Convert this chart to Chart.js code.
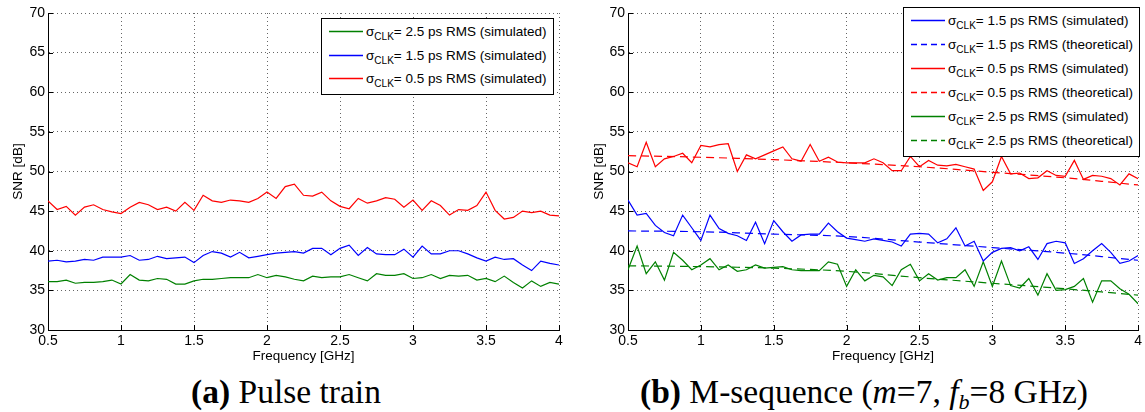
<!DOCTYPE html>
<html>
<head>
<meta charset="utf-8">
<script src="https://cdn.jsdelivr.net/npm/chart.js@4"></script>
<style>
  body { margin: 0; background: #fff; width: 1145px; height: 412px; overflow: hidden; position: relative; }
  .box { position: absolute; top: 0; height: 372px; }
  .legend { position: absolute; background: #fff; border: 1.5px solid #000; font-family: "Liberation Sans", Arial, sans-serif; font-size: 13.5px; color: #000; box-sizing: border-box; }
  .legend .row { position: absolute; left: 0; height: 20px; white-space: nowrap; }
  .legend svg { position: absolute; top: 0; left: 6px; }
  .legend .txt { position: absolute; top: 0; line-height: 20px; }
  .legend sub { font-size: 10px; vertical-align: -4px; line-height: 0; }
  .caption { position: absolute; top: 375px; font-family: "Liberation Serif", "Times New Roman", serif; font-size: 33.5px; line-height: 33px; text-align: center; color: #000; }
</style>
</head>
<body>
<div class="box" id="leftBox" style="left:0; width:572px;"><canvas id="pulse_chart"></canvas></div>
<div class="box" id="rightBox" style="left:572px; width:573px;"><canvas id="mseq_chart"></canvas></div>
<div class="legend" id="legendA" style="left:321px; top:18px; width:233px; height:77px;"></div>
<div class="legend" id="legendB" style="left:903px; top:7px; width:237px; height:150px;"></div>
<div class="caption" style="left:0; width:572px;"><b>(a)</b> Pulse train</div>
<div class="caption" style="left:578px; width:572px;"><b>(b)</b> M-sequence (<i>m</i>=7, <i>f</i><sub style="font-size:22px; vertical-align:-6px; line-height:0;"><i>b</i></sub>=8 GHz)</div>
<script>
// Frequency points, 0.5 to 4 GHz in 1/16 GHz steps.
let freq = [];
for (let i = 0; i <= 56; i++) freq.push(0.5 + i / 16);

// Frequencies used for the theoretical curves.
const theoFreq = [0.5, 1, 1.5, 2, 2.5, 3, 3.5, 4];

const xTicks = [0.5, 1, 1.5, 2, 2.5, 3, 3.5, 4];
const yTicks = [30, 35, 40, 45, 50, 55, 60, 65, 70];

// (a) Pulse train, simulated SNR [dB]
const pulse25 = [36.1, 36.1, 36.3, 35.9, 36.0, 36.0, 36.1, 36.3, 35.8, 37.0, 36.3, 36.2, 36.5, 36.4, 35.8, 35.8, 36.2, 36.4, 36.4, 36.5, 36.6, 36.6, 36.6, 37.0, 36.6, 36.9, 36.7, 36.4,
  36.2, 36.8, 36.6, 36.7, 36.7, 37.0, 36.6, 36.2, 37.1, 36.9, 36.9, 37.1, 36.5, 36.6, 37.0, 36.5, 36.9, 36.8, 36.9, 36.3, 36.5, 36.1, 36.8, 36.0, 35.3, 36.2, 35.5, 36.0, 35.8];
const pulse15 = [38.7, 38.8, 38.6, 38.7, 38.9, 38.8, 39.2, 39.2, 39.2, 39.4, 38.8, 38.9, 39.3, 39.0, 39.1, 39.2, 38.5, 39.4, 39.9, 39.7, 39.2, 39.8, 39.1, 39.3, 39.5, 39.7, 39.8, 39.9,
  39.7, 40.3, 40.3, 39.5, 40.3, 40.7, 39.4, 40.4, 39.6, 39.5, 39.5, 40.2, 39.2, 40.6, 39.6, 39.6, 40.0, 40.0, 39.6, 39.1, 38.7, 39.2, 38.9, 39.0, 38.2, 37.5, 38.7, 38.4, 38.2];
const pulse05 = [46.3, 45.2, 45.6, 44.5, 45.5, 45.8, 45.2, 44.9, 44.7, 45.5, 46.1, 45.8, 45.2, 45.5, 45.0, 46.1, 45.1, 47.0, 46.3, 46.1, 46.4, 46.3, 46.1, 46.6, 47.4, 46.6, 48.1, 48.4,
  47.0, 46.9, 47.4, 46.3, 45.6, 45.3, 46.6, 46.0, 46.3, 46.7, 46.5, 45.5, 46.4, 45.1, 46.3, 45.7, 44.5, 45.2, 45.1, 45.7, 47.4, 45.1, 44.0, 44.2, 45.0, 44.8, 45.0, 44.5, 44.4];

// (b) M-sequence, simulated SNR [dB]
const mseq15 = [46.4, 44.5, 44.7, 43.2, 42.3, 41.9, 44.5, 42.9, 41.3, 44.5, 42.8, 42.2, 41.9, 41.3, 43.6, 40.9, 43.8, 42.4, 41.2, 42.0, 42.1, 42.1, 43.5, 42.4, 41.6, 41.4, 41.2, 41.5,
  41.3, 41.1, 40.6, 42.1, 42.2, 42.1, 41.0, 41.5, 42.9, 40.6, 41.2, 38.7, 39.8, 40.3, 40.4, 40.0, 40.5, 38.9, 40.9, 41.2, 41.0, 38.4, 39.0, 40.0, 40.9, 39.8, 38.4, 38.7, 39.4];
const mseq05 = [51.1, 50.6, 53.7, 50.6, 51.6, 51.9, 52.3, 51.1, 53.3, 53.1, 53.4, 53.5, 50.0, 52.1, 51.6, 52.1, 52.6, 53.1, 51.6, 51.3, 53.4, 51.3, 51.8, 51.2, 51.1, 51.1, 51.1, 51.6,
  51.1, 50.1, 50.1, 51.9, 50.6, 51.4, 50.8, 50.7, 50.9, 50.6, 50.3, 47.6, 48.7, 51.9, 49.7, 49.8, 49.1, 49.2, 50.1, 49.5, 49.4, 51.4, 49.0, 49.5, 49.4, 49.1, 48.3, 49.7, 49.1];
const mseq25 = [37.6, 40.6, 37.1, 38.6, 36.3, 39.8, 38.8, 37.6, 38.2, 39.0, 37.6, 38.2, 37.4, 37.6, 38.2, 37.8, 37.9, 38.0, 37.6, 37.5, 37.5, 37.5, 38.6, 38.3, 35.5, 37.6, 36.2, 36.9,
  36.7, 35.6, 37.6, 38.3, 36.2, 37.1, 36.3, 36.6, 36.6, 37.6, 35.5, 38.6, 35.5, 38.7, 35.6, 35.3, 36.5, 34.4, 37.1, 35.0, 35.1, 35.5, 36.5, 33.5, 36.2, 36.2, 35.2, 34.5, 33.3];

// (b) M-sequence, theoretical SNR [dB]
const theo15 = [42.5, 42.4, 42.1, 41.8, 41.1, 40.4, 39.7, 38.8];
const theo05 = [52.0, 51.8, 51.5, 51.1, 50.6, 49.9, 49.2, 48.3];
const theo25 = [38.1, 38.0, 37.8, 37.4, 36.6, 35.9, 35.2, 34.4];

const RED = '#ff0000', BLUE = '#0000ff', GREEN = '#008000';
const sans = '"Liberation Sans", Arial, sans-serif';

const toPoints = (xs, ys) => xs.map((x, i) => ({x: x, y: ys[i]}));

// Small tick marks drawn inside the plot box, like MATLAB axes.
const inwardTicks = {
  id: 'inwardTicks',
  afterDraw(chart) {
    const {ctx, chartArea: a, scales: {x, y}} = chart;
    ctx.save();
    ctx.strokeStyle = '#000';
    ctx.lineWidth = 1;
    ctx.beginPath();
    x.ticks.forEach(t => {
      const px = Math.round(x.getPixelForValue(t.value)) + 0.5;
      ctx.moveTo(px, a.bottom);
      ctx.lineTo(px, a.bottom - 5);
    });
    y.ticks.forEach(t => {
      const py = Math.round(y.getPixelForValue(t.value)) + 0.5;
      ctx.moveTo(a.left, py);
      ctx.lineTo(a.left + 5, py);
    });
    ctx.stroke();
    ctx.restore();
  }
};

function makeOptions(yWidth, rightPad, titlePad) {
  return {
    responsive: true,
    maintainAspectRatio: false,
    animation: false,
    events: [],
    layout: { padding: { left: 0, top: 13, right: rightPad, bottom: 0 } },
    plugins: { legend: { display: false }, tooltip: { enabled: false } },
    elements: { point: { radius: 0 }, line: { borderWidth: 1.2, tension: 0 } },
    scales: {
      x: {
        type: 'linear', min: 0.5, max: 4,
        afterBuildTicks: s => { s.ticks = xTicks.map(v => ({value: v})); },
        afterFit: s => { s.height = 42; },
        ticks: { callback: v => v.toString(), color: '#000', font: { family: sans, size: 14 }, padding: 3, maxRotation: 0, autoSkip: false },
        grid: { color: '#666', lineWidth: 1, drawTicks: false },
        border: { display: true, color: '#000', width: 1, dash: [1, 3] },
        title: { display: true, text: 'Frequency [GHz]', color: '#000', font: { family: sans, size: 13.5 }, padding: { top: 0, bottom: 8 } }
      },
      y: {
        type: 'linear', min: 30, max: 70,
        afterBuildTicks: s => { s.ticks = yTicks.map(v => ({value: v})); },
        afterFit: s => { s.width = yWidth; },
        ticks: { color: '#000', font: { family: sans, size: 14 }, padding: 3 },
        grid: { color: '#666', lineWidth: 1, drawTicks: false },
        border: { display: true, color: '#000', width: 1, dash: [1, 3] },
        title: { display: true, text: 'SNR [dB]', color: '#000', font: { family: sans, size: 13.5 }, padding: { top: titlePad, bottom: 0 } }
      }
    }
  };
}

const simSet = (label, data, color) => ({ label: label, data: toPoints(freq, data), borderColor: color, backgroundColor: color, fill: false });
const theoSet = (label, data, color) => ({ label: label, data: toPoints(theoFreq, data), borderColor: color, backgroundColor: color, borderDash: [8, 5], tension: 0.35, fill: false });

const pulseChart = new Chart(document.getElementById('pulse_chart'), {
  type: 'line',
  data: {
    datasets: [
      simSet('2.5 ps RMS (simulated)', pulse25, GREEN),
      simSet('1.5 ps RMS (simulated)', pulse15, BLUE),
      simSet('0.5 ps RMS (simulated)', pulse05, RED)
    ]
  },
  options: makeOptions(48, 13, 10),
  plugins: [inwardTicks]
});

const mseqChart = new Chart(document.getElementById('mseq_chart'), {
  type: 'line',
  data: {
    datasets: [
      simSet('1.5 ps RMS (simulated)', mseq15, BLUE),
      theoSet('1.5 ps RMS (theoretical)', theo15, BLUE),
      simSet('0.5 ps RMS (simulated)', mseq05, RED),
      theoSet('0.5 ps RMS (theoretical)', theo05, RED),
      simSet('2.5 ps RMS (simulated)', mseq25, GREEN),
      theoSet('2.5 ps RMS (theoretical)', theo25, GREEN)
    ]
  },
  options: makeOptions(56, 6, 19),
  plugins: [inwardTicks]
});

// HTML legend, so that the subscript in sigma_CLK can be real text.
function buildLegend(chart, id, firstY, step) {
  const box = document.getElementById(id);
  chart.data.datasets.forEach((ds, i) => {
    const row = document.createElement('div');
    row.className = 'row';
    row.style.top = (firstY + i * step - 10) + 'px';
    const dash = ds.borderDash ? ' stroke-dasharray="6 4"' : '';
    const sample = '<svg width="36" height="20"><line x1="1" y1="9.5" x2="35" y2="9.5" stroke="' + ds.borderColor + '" stroke-width="1.3"' + dash + '/></svg>';
    row.innerHTML = sample + '<div class="txt" style="left:44px">\u03C3<sub>CLK</sub>= ' + ds.label + '</div>';
    box.appendChild(row);
  });
}
buildLegend(pulseChart, 'legendA', 13, 23.5);
buildLegend(mseqChart, 'legendB', 13, 24);
</script>
</body>
</html>
